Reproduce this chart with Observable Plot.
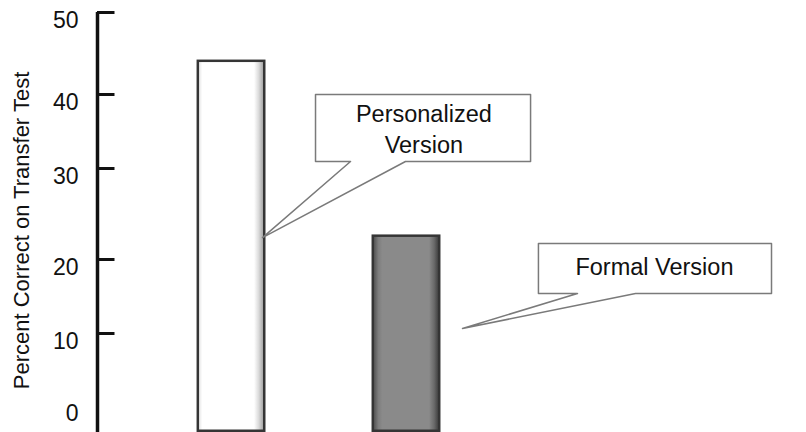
<!DOCTYPE html>
<html>
<head>
<meta charset="utf-8">
<script src="https://cdn.jsdelivr.net/npm/d3@7"></script>
<script src="https://cdn.jsdelivr.net/npm/@observablehq/plot@0.6"></script>
<style>
  html, body { margin: 0; padding: 0; background: #fff; }
  #chart svg { display: block; }
</style>
</head>
<body>
<div id="chart"></div>
<script>
// ---- data ----
const categories = ["Personalized Version", "Formal Version"];
const values = [44.2, 22.7];
const yTickValues = [0, 10, 20, 30, 40, 50];
const yTickMarkValues = [10, 20, 30, 40, 50];
const yLabel = "Percent Correct on Transfer Test";
const calloutLabels = ["Personalized\nVersion", "Formal Version"];

// ---- annotation geometry (data coordinates) ----
const calloutGeom = [
  {box: [1.48, 2.709, 40.0, 30.95], base: [1.68, 1.994], tip: [1.177, 22.4], text: [2.099, 35.5]},
  {box: [2.754, 4.086, 21.76, 15.4], base: [2.977, 3.309], tip: [2.32, 10.68], text: [3.417, 19.3]}
];

// ---- scale setup: the original axis is hand-drawn with uneven tick spacing ----
const yBreaks = [-3.75, 0, 10, 20, 30, 40, 50];
const yBreakPos = [0, 27, 99, 173, 264, 338, 420];
const yWarp = d3.scaleLinear().domain(yBreaks).range(yBreakPos);
const yMin = yBreaks[0];
const xDomain = [0.234, 4.286];
const barHalf = 0.197;
const fills = ["url(#gradPersonal)", "url(#gradFormal)"];

const bars = categories.map((c, i) => ({category: c, pos: i + 1, value: values[i], fill: fills[i]}));

const polys = [];
calloutGeom.forEach((g, i) => {
  const [x1, x2, yt, yb] = g.box;
  [[x1, yt], [x2, yt], [x2, yb], [g.base[1], yb], g.tip, [g.base[0], yb], [x1, yb]]
    .forEach(([x, y]) => polys.push({id: i, x, y}));
});
const calloutTexts = calloutLabels.map((t, i) => ({label: t, x: calloutGeom[i].text[0], y: calloutGeom[i].text[1]}));

const font = "'Liberation Sans', Arial, Helvetica, sans-serif";

const chart = Plot.plot({
  width: 806,
  height: 432,
  marginLeft: 97,
  marginRight: 0,
  marginTop: 28,
  marginBottom: 0,
  style: {fontFamily: font, background: "white", color: "#111"},
  x: {domain: xDomain, axis: null},
  y: {transform: v => yWarp(v), domain: [0, 432], range: [432, 0], axis: null},
  color: {type: "identity"},
  marks: [
    // bars: dark frame + shaded inner fill
    Plot.rectY(bars, {x1: d => d.pos - barHalf, x2: d => d.pos + barHalf, y1: yMin, y2: "value", fill: "#353535"}),
    Plot.rectY(bars, {x1: d => d.pos - barHalf, x2: d => d.pos + barHalf, y1: yMin, y2: "value", fill: "fill", inset: 2.5}),
    // axis line + inward ticks + tick labels
    Plot.ruleX([xDomain[0]], {y1: yMin, y2: 50, stroke: "#111", strokeWidth: 3.5}),
    Plot.ruleY(yTickMarkValues, {y: d => d, x1: xDomain[0], x2: xDomain[0] + 0.1, stroke: "#111", strokeWidth: 3}),
    Plot.text(yTickValues, {x: xDomain[0], y: d => d, text: d => String(d), textAnchor: "end", dx: -19, dy: 8, fontSize: 23, fill: "#111"}),
    Plot.text([yLabel], {frameAnchor: "left", rotate: -90, dx: -69, textAnchor: "middle", lineAnchor: "bottom", fontSize: 22, fill: "#111"}),
    // callouts
    Plot.line(polys, {x: "x", y: "y", z: "id", curve: "linear-closed", fill: "white", stroke: "#7a7a7a", strokeWidth: 1.5}),
    Plot.text(calloutTexts, {x: "x", y: "y", text: "label", fontSize: 23.5, lineHeight: 1.33, textAnchor: "middle", lineAnchor: "middle", fill: "#111"})
  ]
});

chart.insertAdjacentHTML("afterbegin", `
<defs>
  <linearGradient id="gradPersonal" x1="0" x2="1" y1="0" y2="0">
    <stop offset="0" stop-color="#e6e6e6"/>
    <stop offset="0.05" stop-color="#ffffff"/>
    <stop offset="0.86" stop-color="#ffffff"/>
    <stop offset="0.93" stop-color="#dcdcdc"/>
    <stop offset="1" stop-color="#a8a8a8"/>
  </linearGradient>
  <linearGradient id="gradFormal" x1="0" x2="1" y1="0" y2="0">
    <stop offset="0" stop-color="#555555"/>
    <stop offset="0.07" stop-color="#7e7e7e"/>
    <stop offset="0.13" stop-color="#8a8a8a"/>
    <stop offset="0.86" stop-color="#8a8a8a"/>
    <stop offset="0.94" stop-color="#6a6a6a"/>
    <stop offset="1" stop-color="#444444"/>
  </linearGradient>
</defs>`);

document.getElementById("chart").appendChild(chart);
</script>
</body>
</html>
